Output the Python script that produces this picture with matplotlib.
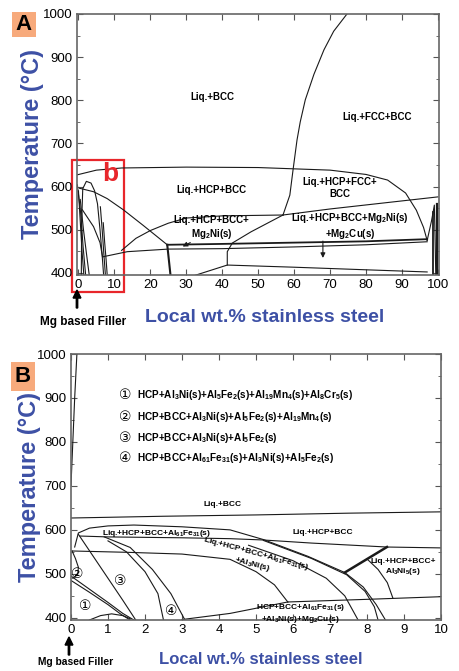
import matplotlib
matplotlib.use("Agg")
import matplotlib.pyplot as plt
from matplotlib.patches import Rectangle, FancyArrow
from matplotlib.ticker import MultipleLocator

plt.rcParams['font.family'] = ['Liberation Sans', 'DejaVu Sans', 'Noto Sans CJK JP']
plt.rcParams['mathtext.fontset'] = 'custom'
plt.rcParams['mathtext.rm'] = 'Liberation Sans'
plt.rcParams['mathtext.bf'] = 'Liberation Sans:bold'
plt.rcParams['mathtext.default'] = 'bf'

BLUE = '#3d50a5'
LINE = '#1a1a1a'

# ---------------- panel A boundaries (wt.% steel, degC) ----------------
a_liquidus = [(74.7, 1000), (71, 960), (68.3, 917), (65.5, 860), (63.1, 801),
              (61.7, 750), (60.8, 708), (59.7, 639), (58.8, 580), (56.9, 534)]
a_top = [(-0.4, 627), (5, 638), (12, 643), (30, 645), (50, 644), (70, 638), (80, 628),
         (86, 615), (91, 585), (94, 545), (96, 505), (97, 475)]
a_mg2ni_top = [(12, 452), (16, 480), (20, 498), (25, 515), (30, 527), (40, 532), (56.9, 534)]
a_fcc_low = [(56.9, 534), (70, 548), (85, 562), (100, 576)]
a_hcp_curve = [(0.3, 596), (4.2, 588), (8, 572), (12.5, 546), (18, 510), (24.7, 465)]
a_box_top = [(24.7, 465), (40, 467), (60, 470), (80, 473), (97, 478)]
a_box_side = [(24.7, 465), (25.6, 395)]
a_line2 = [(6.7, 437), (13.6, 449), (25, 455), (40, 456), (60, 460), (80, 465), (97, 472)]
a_line3 = [(32, 393), (41.4, 418), (60, 413), (80, 407), (97, 402)]
a_cu_curve = [(41.4, 418), (41.4, 449), (42.8, 469), (48, 495), (56.9, 534)]
a_dome = [(0.8, 395), (0.9, 520), (1.2, 595), (2.2, 612), (3.5, 608), (4.5, 590),
          (5.3, 560), (6.0, 500), (6.6, 440), (7.0, 395)]
a_mg_lines = [
    [(-0.3, 604), (0.6, 540), (1.3, 460), (2.0, 395)],
    [(0.0, 590), (0.5, 520), (1.0, 450), (1.5, 395)],
    [(0.5, 570), (1.4, 500), (2.3, 440), (3.0, 395)],
    [(1.1, 546), (4.2, 507), (6.0, 470), (6.7, 437)],
    [(6.1, 553), (6.6, 500), (7.1, 440), (7.5, 395)],
    [(6.9, 516), (7.3, 470), (7.7, 430), (8.0, 395)],
]
a_spike = [(97, 475), (98.2, 520), (99, 557), (99.2, 480), (99.4, 395)]
a_edge1 = [(98.6, 540), (98.6, 395)]
a_edge2 = [(99.6, 560), (99.6, 395)]

a_labels = [
    (37.2, 808, 'Liq.+BCC'),
    (83, 761, 'Liq.+FCC+BCC'),
    (37, 592, 'Liq.+HCP+BCC'),
    (72.8, 597, 'Liq.+HCP+FCC+\nBCC'),
    (37, 503, 'Liq.+HCP+BCC+\nMg$_2$Ni(s)'),
    (75.5, 509, 'Liq.+HCP+BCC+Mg$_2$Ni(s)\n+Mg$_2$Cu(s)'),
]

# ---------------- panel B boundaries ----------------
b_liquidus = [(0.16, 1000), (0.1, 900), (0.04, 780), (0.0, 700)]
b_bcc = [(0, 627), (2.5, 631), (5, 634), (7.5, 638), (10, 641)]
b_dome = [(0.1, 561), (0.2, 593), (0.5, 604), (1, 609), (1.7, 611), (3, 607), (4.3, 600),
          (5.2, 578), (6.4, 540), (7.4, 503), (7.9, 470), (8.25, 430), (8.5, 395)]
b_l3 = [(0.24, 586), (1, 584), (2, 583), (3, 582), (4.3, 580), (5.2, 577), (6.5, 570),
        (8.54, 561), (10, 559)]
b_l2 = [(0.03, 552), (1.5, 549), (3, 545), (4.3, 533), (5, 505), (5.5, 475), (5.86, 436)]
b_low_right = [(5.86, 436), (8, 442), (10, 448)]
b_low_left = [(3.0, 396), (4.3, 410), (5.86, 436)]
b_c2 = [(5.2, 576), (6.5, 535), (7.45, 498), (7.95, 460), (8.2, 425), (8.3, 395)]
b_c3 = [(4.8, 565), (6.0, 530), (6.9, 490), (7.4, 450), (7.76, 395)]
b_thick = [(7.4, 503), (8.54, 561)]
b_ni5 = [(8.0, 534), (8.3, 510), (8.55, 480), (8.7, 445)]
b_mg_lines = [
    [(0.2, 590), (0.6, 540), (1.0, 490), (1.4, 440), (1.75, 395)],
    [(0.0, 495), (0.5, 465), (1.0, 435), (1.4, 410), (1.7, 395)],
    [(0.0, 485), (0.5, 458), (1.0, 430), (1.35, 408), (1.6, 395)],
    [(0.5, 395), (0.8, 405), (1.1, 409), (1.4, 405), (1.6, 398)],
    [(0.03, 552), (0.12, 535), (0.2, 515), (0.18, 498), (0.05, 490)],
    [(0.9, 584), (1.6, 560), (2.2, 510), (2.7, 455), (3.08, 395)],
    [(1.0, 575), (1.5, 550), (2.0, 505), (2.35, 455), (2.5, 395)],
]
b_circles = [(0.38, 427, '①'), (0.16, 500, '②'), (1.32, 484, '③'), (2.7, 416, '④')]
b_key = [
    (907, '①', 'HCP+Al$_3$Ni(s)+Al$_5$Fe$_2$(s)+Al$_{19}$Mn$_4$(s)+Al$_8$Cr$_5$(s)'),
    (857, '②', 'HCP+BCC+Al$_3$Ni(s)+Al$_5$Fe$_2$(s)+Al$_{19}$Mn$_4$(s)'),
    (809, '③', 'HCP+BCC+Al$_3$Ni(s)+Al$_5$Fe$_2$(s)'),
    (764, '④', 'HCP+BCC+Al$_{61}$Fe$_{31}$(s)+Al$_3$Ni(s)+Al$_5$Fe$_2$(s)'),
]
b_labels = [
    (4.1, 658, 'Liq.+BCC', 0),
    (6.8, 593, 'Liq.+HCP+BCC', 0),
    (2.3, 591, 'Liq.+HCP+BCC+Al$_{61}$Fe$_{31}$(s)', 0),
    (4.95, 533, 'Liq.+HCP+BCC+Al$_{61}$Fe$_{31}$(s)\n+Al$_3$Ni(s)', -15),
    (8.98, 514, 'Liq.+HCP+BCC+\nAl$_3$Ni$_5$(s)', 0),
    (6.2, 410, 'HCP+BCC+Al$_{61}$Fe$_{31}$(s)\n+Al$_3$Ni(s)+Mg$_2$Cu(s)', 0),
]


def draw(ax, pts, lw=0.8):
    xs = [p[0] for p in pts]
    ys = [p[1] for p in pts]
    ax.plot(xs, ys, color=LINE, lw=lw)


def style(ax, xmaj):
    for s in ax.spines.values():
        s.set_color('#666666')
        s.set_linewidth(1.2)
    ax.xaxis.set_major_locator(MultipleLocator(xmaj))
    ax.yaxis.set_major_locator(MultipleLocator(100))
    ax.yaxis.set_minor_locator(MultipleLocator(50))
    ax.tick_params(which='both', direction='in', top=True, right=True, color='#555555')
    ax.tick_params(which='major', length=4, labelsize=9.5, pad=3)
    ax.tick_params(which='minor', length=2)
    ax.tick_params(axis='x', which='minor', bottom=False, top=False)


fig = plt.figure(figsize=(4.6, 6.71), dpi=100)

# ---------------- A ----------------
axa = fig.add_axes([0.1674, 0.5902, 0.787, 0.389])
axa.set_xlim(-0.4, 100.3)
axa.set_ylim(395, 1000)
style(axa, 10)
for c in [a_liquidus, a_top, a_mg2ni_top, a_fcc_low, a_hcp_curve, a_line2, a_line3,
          a_cu_curve, a_dome, a_spike] + a_mg_lines:
    draw(axa, c)
draw(axa, a_box_top, 1.3)
draw(axa, a_box_side, 1.5)
draw(axa, a_edge1, 1.3)
draw(axa, a_edge2, 1.6)
for x, y, t in a_labels:
    axa.text(x, y, t, ha='center', va='center', fontsize=7, fontweight='bold',
             linespacing=1.2)
axa.annotate('', xy=(28.3, 458), xytext=(31.8, 473),
             arrowprops=dict(arrowstyle='-|>', color=LINE, lw=0.8, mutation_scale=7))
axa.annotate('', xy=(68, 428), xytext=(68, 480),
             arrowprops=dict(arrowstyle='-|>', color=LINE, lw=0.8, mutation_scale=7))
axa.add_patch(Rectangle((-1.9, 356), 14.7, 306, fill=False, edgecolor='#e8262b',
                        lw=1.6, clip_on=False))
axa.text(8.9, 629, 'b', color='#e8262b', fontsize=19, fontweight='bold',
         ha='center', va='center')

# ---------------- B ----------------
axb = fig.add_axes([0.1543, 0.0760, 0.8043, 0.3964])
axb.set_xlim(0, 10)
axb.set_ylim(395, 1000)
style(axb, 1)
for c in [b_liquidus, b_bcc, b_dome, b_l3, b_l2, b_low_right, b_low_left, b_c2, b_c3,
          b_ni5] + b_mg_lines:
    draw(axb, c)
draw(axb, b_thick, 1.8)
for x, y, t in b_circles:
    axb.text(x, y, t, ha='center', va='center', fontsize=10)
for y, n, t in b_key:
    axb.text(1.46, y, n, ha='center', va='center', fontsize=10)
    axb.text(1.78, y, t, ha='left', va='center', fontsize=7.2, fontweight='bold')
for x, y, t, r in b_labels:
    axb.text(x, y, t, ha='center', va='center', fontsize=6, fontweight='bold',
             rotation=r, linespacing=1.1, rotation_mode='anchor')

# ---------------- figure texts ----------------
fig.text(33 / 460, 1 - 144 / 671, 'Temperature (°C)', color=BLUE, fontsize=17,
         fontweight='bold', rotation=90, ha='center', va='center')
fig.text(30 / 460, 1 - 487 / 671, 'Temperature (°C)', color=BLUE, fontsize=17,
         fontweight='bold', rotation=90, ha='center', va='center')

fig.text(265 / 460, 1 - 318 / 671, 'Local wt.% stainless steel', color=BLUE,
         fontsize=14, fontweight='bold', ha='center', va='center')
fig.text(261 / 460, 1 - 660 / 671, 'Local wt.% stainless steel', color=BLUE,
         fontsize=12, fontweight='bold', ha='center', va='center')
fig.text(83 / 460, 1 - 322 / 671, 'Mg based Filler', fontsize=8.5, fontweight='bold',
         ha='center', va='center')
fig.text(75.5 / 460, 1 - 662 / 671, 'Mg based Filler', fontsize=7.4, fontweight='bold',
         ha='center', va='center')
for ax0, ay0, ay1 in [(77, 308, 290), (69, 655, 637)]:
    fig.patches.append(FancyArrow(
        ax0 / 460, 1 - ay0 / 671, 0, (ay0 - ay1) / 671, width=0.003, head_width=0.017,
        head_length=0.012, length_includes_head=True, color='black',
        transform=fig.transFigure, figure=fig))

for letter, x0, y0, w, h in [('A', 12, 12, 24, 25), ('B', 11, 362, 24, 29)]:
    fig.patches.append(Rectangle((x0 / 460, 1 - (y0 + h) / 671), w / 460, h / 671,
                                 facecolor='#f7aa7c', edgecolor='none',
                                 transform=fig.transFigure, figure=fig))
    fig.text((x0 + w / 2) / 460, 1 - (y0 + h / 2) / 671, letter, fontsize=16,
             fontweight='bold', ha='center', va='center')

fig.savefig('out.png', dpi=100)
